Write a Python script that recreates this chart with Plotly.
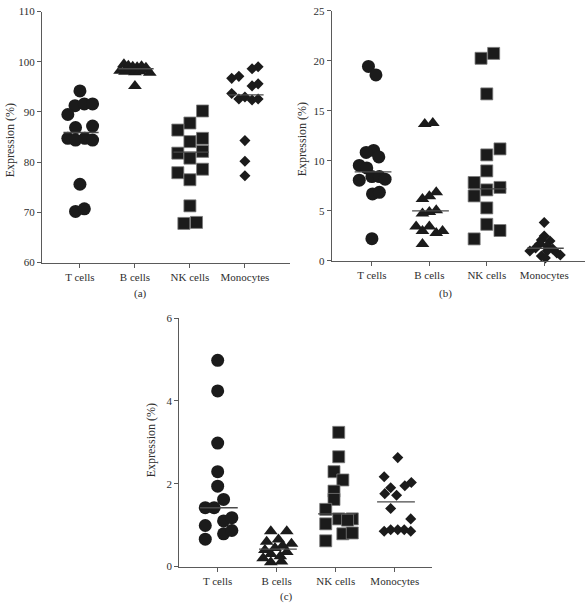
import plotly.graph_objects as go

W, H = 586, 613

categories = ["T cells", "B cells", "NK cells", "Monocytes"]
symbols = ["circle", "triangle-up", "square", "diamond"]
marker_sizes = [13, 12, 12, 8.5]

# ---- Panel (a) ----
a_tcells = [94.2, 91.25, 91.6, 91.6, 89.5, 86.9, 87.2, 84.75, 84.4, 84.75, 84.4, 75.6, 70.2, 70.7]
a_tcells_dx = [0, -0.09, 0.08, 0.23, -0.22, -0.08, 0.23, -0.22, -0.08, 0.09, 0.23, 0, -0.08, 0.08]
a_bcells = [99.5, 99.2, 99.0, 98.9, 99.1, 98.8, 98.2, 98.0, 98.3, 97.9, 98.1, 98.4, 97.8, 95.2]
a_bcells_dx = [-0.2, -0.12, -0.04, 0.04, 0.12, 0.2, -0.27, -0.18, -0.09, 0, 0.09, 0.18, 0.27, 0]
a_nkcells = [90.2, 87.8, 86.4, 84.75, 84.1, 81.8, 82.15, 80.8, 77.9, 78.6, 76.5, 71.3, 67.8, 68.0]
a_nkcells_dx = [0.23, 0, -0.22, 0.23, 0, -0.22, 0.23, 0, -0.22, 0.23, 0, 0, -0.11, 0.12]
a_mono = [99.0, 98.6, 96.7, 97.1, 95.2, 95.6, 93.7, 92.6, 93.0, 92.4, 92.6, 84.3, 80.2, 77.3]
a_mono_dx = [0.24, 0.13, -0.24, -0.11, 0.13, 0.24, -0.24, -0.11, 0, 0.13, 0.24, 0, 0, 0]
a_medians = [85.9, 98.6, 82.0, 93.4]

# ---- Panel (b) ----
b_tcells = [19.45, 18.6, 11.05, 10.85, 10.4, 9.55, 9.3, 8.07, 8.43, 8.43, 8.17, 6.7, 6.86, 2.22]
b_tcells_dx = [-0.06, 0.07, 0.03, -0.1, 0.12, -0.22, -0.09, -0.22, 0, 0.13, 0.23, 0.01, 0.13, 0]
b_bcells = [13.7, 13.8, 6.86, 6.47, 6.2, 5.07, 4.9, 4.74, 3.43, 3.43, 3.0, 2.78, 3.0, 1.7]
b_bcells_dx = [-0.08, 0.06, 0.12, 0, -0.12, 0.12, 0, -0.12, -0.23, 0, -0.12, 0.12, 0.23, -0.12]
b_nkcells = [20.26, 20.75, 16.7, 11.2, 10.6, 9.0, 7.84, 6.5, 7.1, 7.35, 5.3, 3.66, 3.04, 2.2]
b_nkcells_dx = [-0.1, 0.12, 0, 0.23, 0, 0, -0.22, -0.22, 0, 0.23, 0, 0, 0.23, -0.22]
b_mono = [3.85, 2.5, 2.1, 2.0, 1.7, 1.5, 1.3, 1.2, 1.0, 1.0, 0.8, 0.6, 0.5, 0.3]
b_mono_dx = [0, 0, -0.05, 0.1, -0.08, 0.05, -0.15, 0.15, -0.25, 0.05, 0.22, 0.28, -0.05, 0.02]
b_medians = [8.9, 5.0, 7.2, 1.27]

# ---- Panel (c) ----
c_tcells = [4.98, 4.24, 2.98, 2.29, 1.94, 1.62, 1.42, 1.42, 1.1, 1.18, 0.99, 0.79, 0.87, 0.66]
c_tcells_dx = [0, 0, 0, 0, 0, 0.1, -0.21, -0.06, 0.1, 0.24, -0.21, 0.1, 0.24, -0.21]
c_bcells = [0.85, 0.85, 0.65, 0.6, 0.55, 0.5, 0.45, 0.4, 0.35, 0.3, 0.25, 0.2, 0.1, 0.12]
c_bcells_dx = [-0.1, 0.17, 0.03, -0.17, 0.25, 0.1, -0.03, -0.2, 0.17, -0.1, 0.06, -0.23, -0.1, 0.08]
c_nkcells = [3.24, 2.65, 2.29, 2.09, 1.82, 1.62, 1.38, 1.03, 1.15, 1.15, 1.12, 0.79, 0.81, 0.62]
c_nkcells_dx = [0.05, 0.05, -0.03, 0.12, -0.03, -0.03, -0.17, -0.17, 0.05, 0.28, 0.2, 0.12, 0.28, -0.17]
c_mono = [2.63, 2.17, 2.03, 1.95, 1.9, 1.76, 1.72, 1.4, 1.15, 0.85, 0.89, 0.89, 0.89, 0.85]
c_mono_dx = [0.05, -0.18, 0.28, 0.17, -0.07, -0.17, 0.03, -0.07, 0.27, -0.18, -0.07, 0.05, 0.16, 0.27]
c_medians = [1.42, 0.42, 1.27, 1.56]

panels = [
    dict(vals=[a_tcells, a_bcells, a_nkcells, a_mono],
         dx=[a_tcells_dx, a_bcells_dx, a_nkcells_dx, a_mono_dx],
         med=a_medians, ax=""),
    dict(vals=[b_tcells, b_bcells, b_nkcells, b_mono],
         dx=[b_tcells_dx, b_bcells_dx, b_nkcells_dx, b_mono_dx],
         med=b_medians, ax="2"),
    dict(vals=[c_tcells, c_bcells, c_nkcells, c_mono],
         dx=[c_tcells_dx, c_bcells_dx, c_nkcells_dx, c_mono_dx],
         med=c_medians, ax="3"),
]

fig = go.Figure()
MCOL = "#1b1b1b"
for p in panels:
    xa, ya = "x" + p["ax"], "y" + p["ax"]
    for i, (vals, dx) in enumerate(zip(p["vals"], p["dx"])):
        line = dict(width=0.8, color="#7a7a7a") if symbols[i] == "square" else dict(width=0)
        fig.add_trace(go.Scatter(
            x=[i + d for d in dx], y=vals, mode="markers",
            marker=dict(symbol=symbols[i], size=marker_sizes[i], color=MCOL, line=line),
            xaxis=xa, yaxis=ya, showlegend=False, cliponaxis=False))
    for i, m in enumerate(p["med"]):
        fig.add_trace(go.Scatter(
            x=[i - 0.3, i + 0.34], y=[m, m], mode="lines",
            line=dict(color="#4a4a4a", width=1.4),
            xaxis=xa, yaxis=ya, showlegend=False, cliponaxis=False))

def px(x, y):
    return x / W, 1 - y / H

FONT = "Liberation Serif"
TXT = "#2e2e2e"
FS = 11
axis_common = dict(showgrid=False, zeroline=False, showline=True, linecolor="#5a5a5a",
                   linewidth=1, ticks="outside", tickcolor="#5a5a5a", ticklen=4,
                   tickfont=dict(family=FONT, size=FS, color=TXT))

specs = [
    dict(xd=(42, 290), yd=(261.7, 5.7), xr=[-0.69, 3.82], yr=[60, 110], tv=[60, 70, 80, 90, 100, 110]),
    dict(xd=(331.7, 585), yd=(260, 5), xr=[-0.70, 3.71], yr=[0, 25], tv=[0, 5, 10, 15, 20, 25]),
    dict(xd=(179.3, 432), yd=(571.7, 318.3), xr=[-0.65, 3.63], yr=[0, 6], tv=[0, 2, 4, 6]),
]
for k, s in enumerate(specs):
    suf = "" if k == 0 else str(k + 1)
    fig.update_layout(**{
        "xaxis" + suf: dict(axis_common, domain=[s["xd"][0] / W, s["xd"][1] / W], range=s["xr"],
                            tickvals=[0, 1, 2, 3], ticktext=categories,
                            anchor="y" + suf),
        "yaxis" + suf: dict(axis_common, domain=[1 - s["yd"][0] / H, 1 - s["yd"][1] / H], range=s["yr"],
                            tickvals=s["tv"], anchor="x" + suf),
    })

annos = []
for lab, (x, y) in zip(["(a)", "(b)", "(c)"], [(140, 293), (445, 293), (286, 602)]):
    xx, yy = px(x, y)
    annos.append(dict(text=lab, x=xx, y=yy, xref="paper", yref="paper", showarrow=False,
                      xanchor="center", yanchor="middle",
                      font=dict(family=FONT, size=FS, color=TXT)))
for (x, y) in [(10, 137), (302, 136), (151, 443)]:
    xx, yy = px(x, y)
    annos.append(dict(text="Expression (%)", x=xx, y=yy, xref="paper", yref="paper",
                      showarrow=False, textangle=-90, xanchor="center", yanchor="middle",
                      font=dict(family=FONT, size=12, color=TXT)))

fig.update_layout(width=W, height=H, margin=dict(l=0, r=0, t=0, b=0),
                  paper_bgcolor="white", plot_bgcolor="white", annotations=annos)

fig.write_html("out.html")
